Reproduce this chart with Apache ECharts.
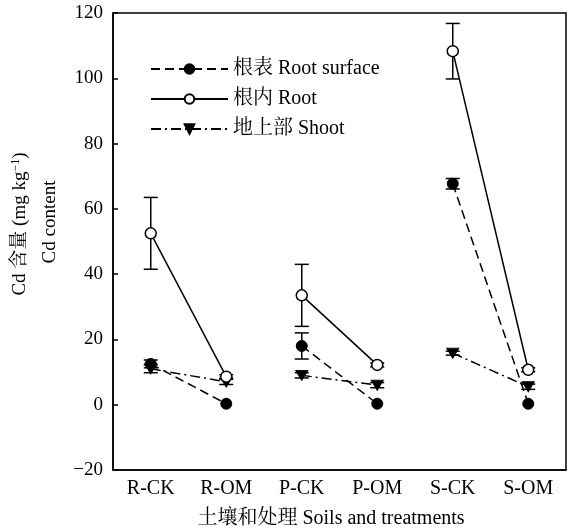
<!DOCTYPE html>
<html><head><meta charset="utf-8">
<script src="https://cdn.jsdelivr.net/npm/echarts@6/dist/echarts.min.js"></script>
<style>html,body{margin:0;padding:0;background:#fff}#c{width:580px;height:529px}</style>
</head><body><div id="c"></div>
<script>
const categories = ['R-CK','R-OM','P-CK','P-OM','S-CK','S-OM'];
const yTicks = [-20, 0, 20, 40, 60, 80, 100, 120];
const surface = [12.5, 0.3, 18, 0.3, 67.7, 0.3];
const surfaceErr = [1.2, 0, 4, 0, 1.6, 0];
const root = [52.5, 8.6, 33.5, 12.2, 108.3, 10.7];
const rootErr = [11, 0.6, 9.5, 0.6, 8.5, 0.6];
const shoot = [11, 7, 9, 6, 15.8, 5.5];
const shootErr = [1.2, 0.8, 0.8, 0.8, 0.6, 0.8];
const names = ['根表 Root surface', '根内 Root', '地上部 Shoot'];
const soilPairs = [[0, 1], [2, 3], [4, 5]];

const FONT = "'Liberation Serif','Noto Serif CJK SC','Noto Sans CJK SC',serif";
const FS = 19;
const chart = echarts.init(document.getElementById('c'), null, {renderer:'canvas'});

function errSeries(vals, errs) {
  return {
    type: 'custom',
    silent: true,
    z: 1,
    data: vals.map((v, i) => [i, v, errs[i]]),
    renderItem: function (params, api) {
      const e = api.value(2);
      if (!e) return null;
      const x = api.value(0), v = api.value(1);
      const hi = api.coord([x, v + e]);
      const lo = api.coord([x, v - e]);
      const w = 7;
      const st = {stroke: '#000', lineWidth: 1.5};
      return {type: 'group', children: [
        {type: 'line', shape: {x1: hi[0], y1: hi[1], x2: lo[0], y2: lo[1]}, style: st},
        {type: 'line', shape: {x1: hi[0]-w, y1: hi[1], x2: hi[0]+w, y2: hi[1]}, style: st},
        {type: 'line', shape: {x1: lo[0]-w, y1: lo[1], x2: lo[0]+w, y2: lo[1]}, style: st}
      ]};
    }
  };
}

const tri = 'path://M0,0 L12,0 L6,10 Z';
const styles = [
  {symbol: 'circle', symbolSize: 11, z: 3,
   lineStyle: {color: '#000', width: 1.5, type: [9, 5]},
   itemStyle: {color: '#000', borderColor: '#000', borderWidth: 1}},
  {symbol: 'circle', symbolSize: 11, z: 4,
   lineStyle: {color: '#000', width: 1.5, type: 'solid'},
   itemStyle: {color: '#fff', borderColor: '#000', borderWidth: 1.5}},
  {symbol: tri, symbolSize: [12, 10], z: 3,
   lineStyle: {color: '#000', width: 1.5, type: [10, 4, 2, 4]},
   itemStyle: {color: '#000', borderColor: '#000', borderWidth: 1}}
];
const allVals = [surface, root, shoot];
const lineSeries = [];
allVals.forEach((vals, k) => {
  soilPairs.forEach(pair => {
    const d = vals.map((v, i) => (pair.indexOf(i) >= 0 ? v : null));
    lineSeries.push(Object.assign({name: names[k], type: 'line', data: d, connectNulls: false}, styles[k]));
  });
});

chart.setOption({
  animation: false,
  backgroundColor: '#fff',
  textStyle: {fontFamily: FONT, color: '#000'},
  grid: {left: 113, right: 14, top: 13, bottom: 59, show: true, borderColor: '#000', borderWidth: 1.5},
  legend: {
    orient: 'vertical', left: 145, top: 54,
    itemWidth: 77, itemHeight: 12, itemGap: 10,
    textStyle: {fontFamily: FONT, fontSize: 20, color: '#000'},
    data: names
  },
  xAxis: {
    type: 'category', data: categories, boundaryGap: true,
    axisLine: {onZero: false, lineStyle: {color: '#000', width: 1.5}},
    axisTick: {inside: true, alignWithLabel: true, length: 6, lineStyle: {color: '#000', width: 1.5}},
    axisLabel: {fontFamily: FONT, fontSize: 20, color: '#000', margin: 9},
    splitLine: {show: false}
  },
  yAxis: {
    type: 'value', min: yTicks[0], max: yTicks[yTicks.length-1], interval: 20,
    axisLine: {show: true, lineStyle: {color: '#000', width: 1.5}},
    axisTick: {show: true, inside: true, length: 5, lineStyle: {color: '#000', width: 1.5}},
    axisLabel: {fontFamily: FONT, fontSize: FS, color: '#000', margin: 10,
      formatter: v => String(v).replace('-', '−')},
    splitLine: {show: false}
  },
  graphic: [
    {type: 'text', x: 20, y: 224, rotation: Math.PI/2,
     style: {text: 'Cd 含量 (mg kg{s|−1})', fontFamily: FONT, fontSize: FS, fill: '#000',
       align: 'center', verticalAlign: 'middle',
       rich: {s: {fontSize: 12, fontFamily: FONT, verticalAlign: 'top', padding: [0,0,9,0]}}}},
    {type: 'text', x: 50, y: 222, rotation: Math.PI/2,
     style: {text: 'Cd content', fontFamily: FONT, fontSize: FS, fill: '#000',
       align: 'center', verticalAlign: 'middle'}},
    {type: 'text', x: 331, y: 519,
     style: {text: '土壤和处理 Soils and treatments', fontFamily: FONT, fontSize: 20, fill: '#000',
       align: 'center', verticalAlign: 'middle'}}
  ],
  series: [
    errSeries(surface, surfaceErr),
    errSeries(root, rootErr),
    errSeries(shoot, shootErr)
  ].concat(lineSeries)
});
</script></body></html>
